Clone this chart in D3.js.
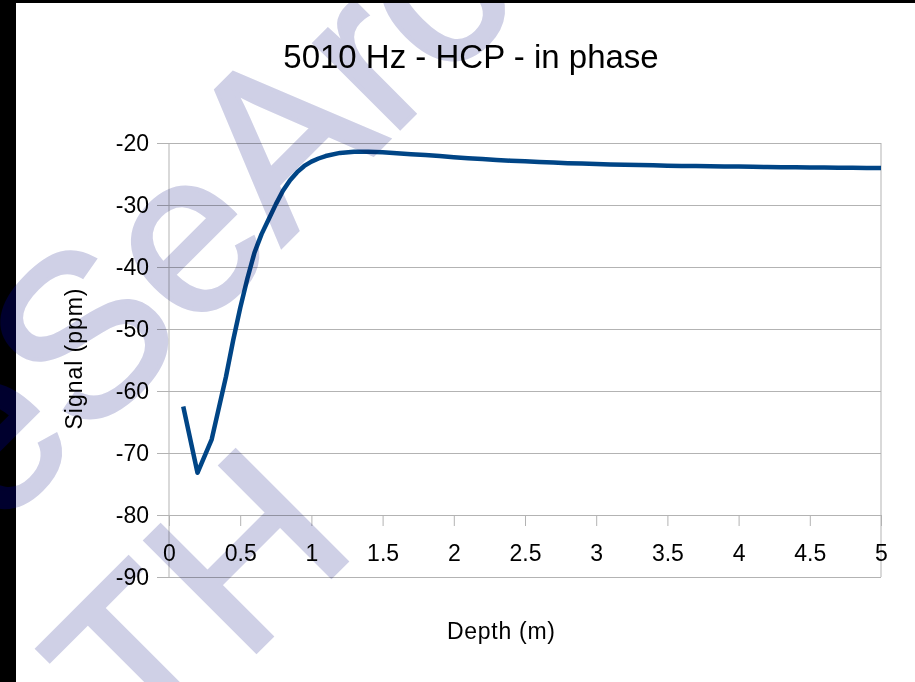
<!DOCTYPE html>
<html><head><meta charset="utf-8">
<script src="https://cdn.jsdelivr.net/npm/d3@7/dist/d3.min.js"></script>
<style>body{margin:0;background:#fff;overflow:hidden} svg{display:block}</style>
</head><body><script>
// ---- data ----
const depths = [0.1,0.2,0.3,0.4,0.45,0.5,0.55,0.6,0.65,0.7,0.75,0.8,0.85,0.9,0.95,1.0,1.05,
                1.1,1.2,1.3,1.4,1.5,1.6,1.7,1.8,1.9,2.0,
                2.1,2.2,2.3,2.4,2.5,2.6,2.7,2.8,2.9,3.0,
                3.1,3.2,3.3,3.4,3.5,3.6,3.7,3.8,3.9,4.0,
                4.1,4.2,4.3,4.4,4.5,4.6,4.7,4.8,4.9,5.0];
const signal = [-62.5,-73.2,-67.8,-57.7,-51.9,-46.6,-41.9,-37.7,-34.7,-32.3,-29.9,-27.7,-26.0,-24.7,-23.7,-23.0,-22.5,
                -22.1,-21.6,-21.4,-21.4,-21.5,-21.65,-21.8,-21.95,-22.1,-22.3,
                -22.45,-22.6,-22.75,-22.85,-22.95,-23.05,-23.15,-23.25,-23.3,-23.4,
                -23.45,-23.5,-23.55,-23.6,-23.65,-23.7,-23.72,-23.75,-23.78,-23.8,
                -23.85,-23.87,-23.9,-23.92,-23.95,-23.97,-24.0,-24.0,-24.02,-24.05];
const yTicks = [-20,-30,-40,-50,-60,-70,-80,-90];
const xTicks = [0,0.5,1,1.5,2,2.5,3,3.5,4,4.5,5];
const xTickLabels = ["0","0.5","1","1.5","2","2.5","3","3.5","4","4.5","5"];
const titleText = "5010 Hz - HCP - in phase";
const xTitleText = "Depth (m)";
const yTitleText = "Signal (ppm)";
const watermarkLines = ["ceSeArch","eTH"];

// ---- drawing ----
const W = 915, H = 682;
const FONT = "'Liberation Sans', Arial, sans-serif";
const svg = d3.select("body").append("svg").attr("width", W).attr("height", H);

svg.append("rect").attr("width", W).attr("height", H).attr("fill", "#fff");
// black frame edges
svg.append("rect").attr("x",0).attr("y",0).attr("width",16).attr("height",H).attr("fill","#000");
svg.append("rect").attr("x",0).attr("y",0).attr("width",W).attr("height",3).attr("fill","#000");

const x = d3.scaleLinear().domain([0,5]).range([169,881]);
const y = d3.scaleLinear().domain([-90,-20]).range([577,143]);
const grid = "#b3b3b3";

// horizontal gridlines (extend left as tick marks)
const gY = svg.append("g").attr("transform", `translate(${x(0)},0)`)
  .call(d3.axisLeft(y).tickValues(yTicks).tickSize(12).tickPadding(8));
gY.select(".domain").remove();
gY.selectAll(".tick line").attr("stroke", grid);
gY.selectAll(".tick").append("line").attr("x1",0).attr("x2",x(5)-x(0)).attr("stroke",grid);
gY.selectAll(".tick text").attr("font-family",FONT).attr("font-size",23).attr("fill","#000")
  .attr("dy","0.34em").text(d => String(d));

// vertical axis line and right border
svg.append("line").attr("x1",x(0)).attr("x2",x(0)).attr("y1",y(-20)).attr("y2",y(-90)).attr("stroke",grid);
svg.append("line").attr("x1",x(5)).attr("x2",x(5)).attr("y1",y(-20)).attr("y2",y(-90)).attr("stroke",grid);

// x axis crossing at -80
const gX = svg.append("g").attr("transform", `translate(0,${y(-80)})`)
  .call(d3.axisBottom(x).tickValues(xTicks).tickSize(11).tickFormat((d,i)=>xTickLabels[i]));
gX.select(".domain").remove();
gX.selectAll(".tick line").attr("stroke", grid);
gX.selectAll(".tick text").attr("font-family",FONT).attr("font-size",23).attr("fill","#000")
  .attr("y",46).attr("dy",0);

// data line
const pts = depths.map((d,i)=>[d, signal[i]]);
svg.append("path").datum(pts)
  .attr("fill","none").attr("stroke","#004586").attr("stroke-width",4.5)
  .attr("stroke-linejoin","round").attr("stroke-linecap","butt")
  .attr("d", d3.line().x(d=>x(d[0])).y(d=>y(d[1])));

// titles
svg.append("text").attr("x",471).attr("y",68).attr("text-anchor","middle")
  .attr("font-family",FONT).attr("font-size",33).attr("fill","#000").text(titleText);
svg.append("text").attr("x",501).attr("y",639).attr("text-anchor","middle")
  .attr("font-family",FONT).attr("font-size",23).attr("fill","#000")
  .attr("textLength",108).attr("lengthAdjust","spacing").text(xTitleText);
svg.append("text").attr("transform","translate(82,359) rotate(-90)").attr("text-anchor","middle")
  .attr("font-family",FONT).attr("font-size",23).attr("fill","#000")
  .attr("textLength",141).attr("lengthAdjust","spacing").text(yTitleText);

// watermark
const wmPos = [[-86,614],[55,853]];
const defs = svg.append("defs");
defs.append("clipPath").attr("id","blackband").append("rect").attr("x",0).attr("y",0).attr("width",16).attr("height",H);
const wm = svg.append("g").style("mix-blend-mode","multiply").attr("pointer-events","none");
watermarkLines.forEach((t,i)=>{
  wm.append("text").attr("transform",`translate(${wmPos[i][0]},${wmPos[i][1]}) rotate(-45)`)
    .attr("font-family",FONT).attr("font-size",228).attr("fill","#cfd0e6")
    .attr("stroke","#cfd0e6").attr("stroke-width",4).text(t);
});
const wm2 = svg.append("g").attr("clip-path","url(#blackband)");
watermarkLines.forEach((t,i)=>{
  wm2.append("text").attr("transform",`translate(${wmPos[i][0]},${wmPos[i][1]}) rotate(-45)`)
    .attr("font-family",FONT).attr("font-size",228).attr("fill","#00002e")
    .attr("stroke","#00002e").attr("stroke-width",4).text(t);
});
</script></body></html>
